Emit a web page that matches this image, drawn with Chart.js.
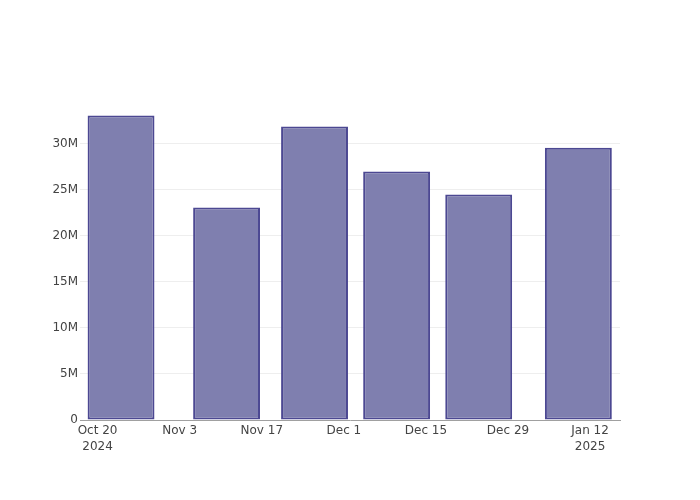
<!DOCTYPE html>
<html>
<head>
<meta charset="utf-8">
<script src="https://cdn.jsdelivr.net/npm/chart.js@4"></script>
<style>
  html, body { margin: 0; padding: 0; background: white; }
  #barChart { display: block; }
</style>
</head>
<body>
<canvas id="barChart" width="700" height="500"></canvas>
<script>
// data
const barDates = ["2024-10-24", "2024-11-11", "2024-11-26", "2024-12-10", "2024-12-24", "2025-01-10"];
const barValues = [33.1e6, 23.1e6, 31.9e6, 27.0e6, 24.5e6, 29.6e6];

const xTickDates = ["2024-10-20", "2024-11-03", "2024-11-17", "2024-12-01", "2024-12-15", "2024-12-29", "2025-01-12"];
const xTickLabels = [["Oct 20", "2024"], "Nov 3", "Nov 17", "Dec 1", "Dec 15", "Dec 29", ["Jan 12", "2025"]];

const yTickValues = [0, 5e6, 10e6, 15e6, 20e6, 25e6, 30e6];
const yTickLabels = ["0", "5M", "10M", "15M", "20M", "25M", "30M"];

const xRangeStart = "2024-10-17";
const xRangeEnd = "2025-01-17";
const yMax = 34.78e6;

// no date adapter available, so dates go on a linear axis in days
const toDay = (s) => Date.parse(s + "T00:00:00Z") / 86400000;

const points = barDates.map((d, i) => ({ x: toDay(d), y: barValues[i] }));

const config = {
  type: "bar",
  data: {
    datasets: [
      {
        data: points,
        backgroundColor: "rgb(127,127,175)",
        borderColor: "rgb(76,72,146)",
        borderWidth: 2,
        borderSkipped: false,
        barPercentage: 0.815,
        categoryPercentage: 1.0,
      },
    ],
  },
  options: {
    responsive: false,
    animation: false,
    layout: {
      padding: { top: 100, right: 80, left: 0, bottom: 0 },
    },
    plugins: {
      legend: { display: false },
      tooltip: { enabled: false },
    },
    scales: {
      x: {
        type: "linear",
        offset: false,
        min: toDay(xRangeStart),
        max: toDay(xRangeEnd) + 0.1,
        afterBuildTicks: (scale) => {
          scale.ticks = xTickDates.map((d) => ({ value: toDay(d) }));
        },
        afterFit: (scale) => {
          scale.height = 80;
        },
        ticks: {
          autoSkip: false,
          maxRotation: 0,
          padding: 3,
          color: "#444",
          font: { family: "DejaVu Sans", size: 12, lineHeight: 1.3 },
          callback: (value, index) => xTickLabels[index],
        },
        grid: { display: false, offset: false, drawTicks: false },
        border: { display: true, color: "rgb(160,160,160)", width: 1 },
      },
      y: {
        type: "linear",
        min: 0,
        max: yMax,
        afterBuildTicks: (scale) => {
          scale.ticks = yTickValues.map((v) => ({ value: v }));
        },
        afterFit: (scale) => {
          scale.width = 80;
        },
        ticks: {
          padding: 2,
          color: "#444",
          font: { family: "DejaVu Sans", size: 12 },
          callback: (value, index) => yTickLabels[index],
        },
        grid: {
          drawTicks: false,
          color: (ctx) => (ctx.tick && ctx.tick.value === 0 ? "rgba(0,0,0,0)" : "#eeeeee"),
        },
        border: { display: false },
      },
    },
  },
};

new Chart(document.getElementById("barChart"), config);
</script>
</body>
</html>
